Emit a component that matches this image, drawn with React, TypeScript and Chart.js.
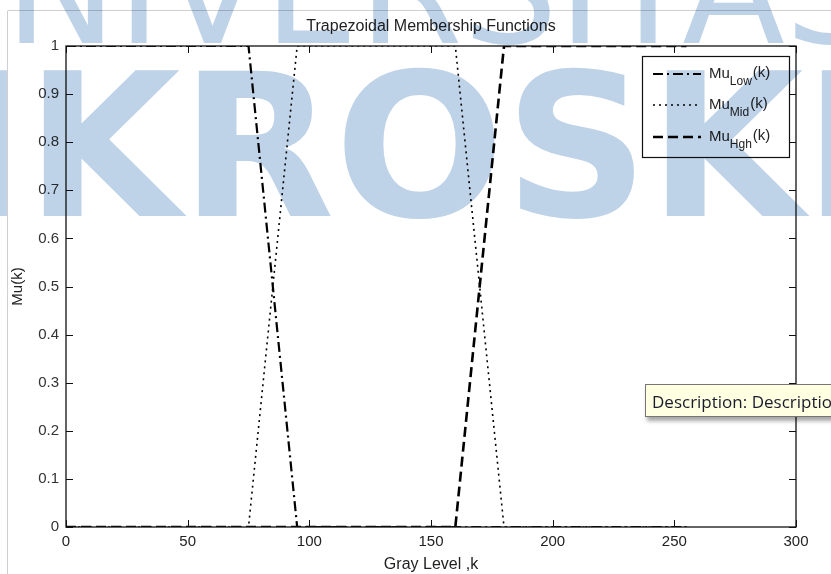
import React, { useEffect, useRef } from 'react';
import { Chart, registerables } from 'chart.js';

Chart.register(...registerables);

// ---- data ----
const lowX = [0, 75, 95, 255];
const lowY = [1, 1, 0, 0];
const midX = [0, 75, 95, 160, 180, 255];
const midY = [0, 0, 1, 1, 0, 0];
const highX = [0, 160, 180, 255];
const highY = [0, 0, 1, 1];
const xTicks = [0, 50, 100, 150, 200, 250, 300];
const yTicks = [0, 0.1, 0.2, 0.3, 0.4, 0.5, 0.6, 0.7, 0.8, 0.9, 1];
const legendSubs = ['Low', 'Mid', 'Hgh'];
const titleText = 'Trapezoidal Membership Functions';
const xTitle = 'Gray Level ,k';
const yTitle = 'Mu(k)';
const watermarkTop = 'UNIVERSITAS';
const watermarkBottom = 'MIKROSKIL';
const tooltipText = 'Description: Description';

const FONT = '"Liberation Sans", Arial, sans-serif';
const dashes = [[10, 4, 2, 4], [2, 4], [10, 5]];
const widths = [2.2, 1.6, 2.6];

const toPts = (xs: number[], ys: number[]) => xs.map((x, i) => ({ x, y: ys[i] }));

const matlabPlugin = {
  id: 'matlab',
  beforeDraw(chart: any) {
    const ctx = chart.ctx;
    ctx.save();
    ctx.strokeStyle = '#cfcfcf';
    ctx.lineWidth = 1;
    ctx.beginPath();
    ctx.moveTo(8, 10.5);
    ctx.lineTo(831, 10.5);
    ctx.moveTo(7.5, 10.5);
    ctx.lineTo(7.5, 574);
    ctx.stroke();
    ctx.restore();
  },
  afterDatasetsDraw(chart: any) {
    const ctx = chart.ctx;
    const { left, right, top, bottom } = chart.chartArea;
    const xs = chart.scales.x;
    const ys = chart.scales.y;
    ctx.save();
    // box
    ctx.strokeStyle = '#111';
    ctx.lineWidth = 1.3;
    ctx.setLineDash([]);
    ctx.strokeRect(left, top, right - left, bottom - top);
    // inward ticks
    const tl = 7;
    ctx.beginPath();
    xTicks.forEach((v) => {
      const px = Math.round(xs.getPixelForValue(v)) + 0.5;
      ctx.moveTo(px, bottom);
      ctx.lineTo(px, bottom - tl);
      ctx.moveTo(px, top);
      ctx.lineTo(px, top + tl);
    });
    yTicks.forEach((v) => {
      const py = Math.round(ys.getPixelForValue(v)) + 0.5;
      ctx.moveTo(left, py);
      ctx.lineTo(left + tl, py);
      ctx.moveTo(right, py);
      ctx.lineTo(right - tl, py);
    });
    ctx.lineWidth = 1;
    ctx.stroke();

    // title
    ctx.fillStyle = '#222';
    ctx.font = `16px ${FONT}`;
    ctx.textAlign = 'center';
    ctx.textBaseline = 'middle';
    ctx.fillText(titleText, (left + right) / 2, 27);

    // legend
    const bx = 642.5, by = 56.5, bw = 147, bh = 101;
    ctx.fillStyle = '#fff';
    ctx.fillRect(bx, by, bw, bh);
    ctx.strokeStyle = '#111';
    ctx.lineWidth = 1.2;
    ctx.strokeRect(bx, by, bw, bh);
    const rows = [74, 105, 137];
    chart.data.datasets.forEach((ds: any, i: number) => {
      const y = rows[i];
      ctx.save();
      ctx.strokeStyle = ds.borderColor;
      ctx.lineWidth = ds.borderWidth;
      ctx.setLineDash(ds.borderDash);
      ctx.beginPath();
      ctx.moveTo(653, y);
      ctx.lineTo(701, y);
      ctx.stroke();
      ctx.restore();
      ctx.fillStyle = '#222';
      ctx.textAlign = 'left';
      ctx.textBaseline = 'middle';
      ctx.font = `15px ${FONT}`;
      ctx.fillText('Mu', 709, y);
      const w1 = ctx.measureText('Mu').width;
      ctx.font = `12px ${FONT}`;
      ctx.fillText(legendSubs[i], 709 + w1, y + 8);
      const w2 = ctx.measureText(legendSubs[i]).width;
      ctx.font = `15px ${FONT}`;
      ctx.fillText('(k)', 709 + w1 + w2 + 1, y - 1);
    });
    ctx.restore();
  },
  afterDraw(chart: any) {
    const ctx = chart.ctx;
    ctx.save();
    ctx.globalCompositeOperation = 'multiply';
    ctx.fillStyle = 'rgb(190,210,232)';
    ctx.textAlign = 'left';
    ctx.textBaseline = 'alphabetic';
    ctx.font = '150px "DejaVu Sans"';
    ctx.fillText(watermarkTop, -105, 43);
    ctx.font = 'bold 200px "DejaVu Sans"';
    ctx.fillText(watermarkBottom, -248, 216);
    ctx.restore();
  },
};

export default function App() {
  const ref = useRef<HTMLCanvasElement>(null);
  useEffect(() => {
    if (!ref.current) return;
    const mk = (xs: number[], ys: number[], i: number, label: string) => ({
      label,
      data: toPts(xs, ys),
      borderColor: '#000',
      borderWidth: widths[i],
      borderDash: dashes[i],
      pointRadius: 0,
      fill: false,
      tension: 0,
    });
    const chart = new Chart(ref.current, {
      type: 'line',
      data: {
        datasets: [
          mk(lowX, lowY, 0, 'Mu_Low(k)'),
          mk(midX, midY, 1, 'Mu_Mid(k)'),
          mk(highX, highY, 2, 'Mu_Hgh(k)'),
        ],
      },
      options: {
        responsive: false,
        animation: false,
        layout: { padding: { top: 46, right: 35, bottom: 0, left: 0 } },
        plugins: { legend: { display: false }, tooltip: { enabled: false }, title: { display: false } },
        scales: {
          x: {
            type: 'linear',
            min: 0,
            max: 300,
            afterBuildTicks: (s: any) => { s.ticks = xTicks.map((v) => ({ value: v })); },
            afterFit: (s: any) => { s.height = 47; },
            grid: { display: false, drawTicks: false },
            border: { display: false },
            ticks: { padding: 6, color: '#222', font: { family: FONT, size: 15 }, maxRotation: 0, callback: (v: any) => String(v) },
            title: { display: true, text: xTitle, color: '#222', font: { family: FONT, size: 16 }, padding: { top: 0, bottom: 0 } },
          },
          y: {
            type: 'linear',
            min: 0,
            max: 1,
            afterBuildTicks: (s: any) => { s.ticks = yTicks.map((v) => ({ value: v })); },
            afterFit: (s: any) => { s.width = 66; },
            grid: { display: false, drawTicks: false },
            border: { display: false },
            ticks: { padding: 7, color: '#333', font: { family: FONT, size: 15 }, callback: (v: any) => String(v) },
            title: { display: true, text: yTitle, color: '#222', font: { family: FONT, size: 15 }, padding: { top: 9, bottom: 0 } },
          },
        },
      },
      plugins: [matlabPlugin],
    });
    return () => chart.destroy();
  }, []);

  return (
    <div style={{ position: 'fixed', left: 0, top: 0, width: 831, height: 574, overflow: 'hidden', background: '#fff' }}>
      <canvas ref={ref} width={831} height={574} style={{ position: 'absolute', left: 0, top: 0, width: 831, height: 574 }} />
      <div
        style={{
          position: 'absolute',
          left: 645,
          top: 384,
          width: 260,
          height: 33,
          background: '#ffffe1',
          border: '1px solid #767676',
          boxShadow: '2px 4px 4px rgba(0,0,0,0.35)',
          fontFamily: '"Open Sans", "Noto Sans", sans-serif',
          fontSize: 17,
          lineHeight: '33px',
          color: '#1b1b2e',
          paddingLeft: 6,
          whiteSpace: 'nowrap',
          boxSizing: 'border-box',
        }}
      >
        {tooltipText}
      </div>
    </div>
  );
}
